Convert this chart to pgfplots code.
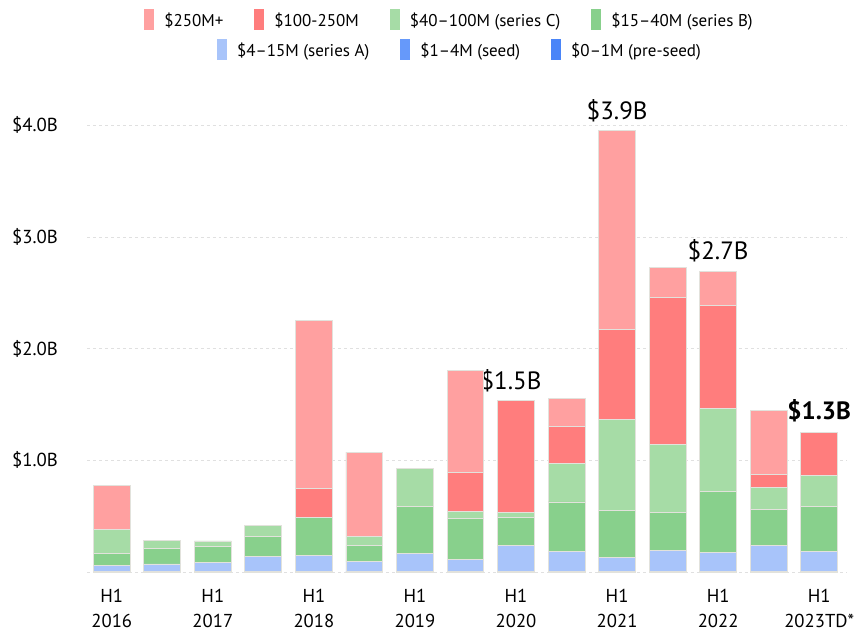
\documentclass[border=0pt]{standalone}
\usepackage{pgfplots}
\pgfplotsset{compat=1.18}
\usepackage{pgfplotstable}
\usepackage{fontspec}
\setmainfont{PT Sans}
\definecolor{cE}{HTML}{FFA0A0}
\definecolor{cD}{HTML}{FF7D7D}
\definecolor{cC}{HTML}{A6DCA6}
\definecolor{cB}{HTML}{88D08C}
\definecolor{cA}{HTML}{A8C4FA}
\definecolor{cS}{HTML}{6699FA}
\definecolor{cP}{HTML}{4A85F8}
\definecolor{edge}{HTML}{E2E2DC}
\pgfplotstableread{
x pre seed A B C D E
0 0.002 0.004 0.054 0.110 0.210 0 0.396
1 0.002 0.004 0.066 0.138 0.074 0 0
2 0.002 0.004 0.081 0.143 0.048 0 0
3 0.002 0.004 0.134 0.180 0.098 0 0
4 0.002 0.004 0.144 0.337 0 0.260 1.506
5 0.002 0.004 0.084 0.146 0.084 0 0.754
6 0.002 0.004 0.164 0.420 0.340 0 0
7 0.002 0.004 0.110 0.367 0.060 0.347 0.916
8 0.002 0.004 0.233 0.248 0.045 1.005 0
9 0.002 0.004 0.182 0.439 0.346 0.334 0.251
10 0.002 0.004 0.123 0.423 0.812 0.809 1.781
11 0.002 0.004 0.188 0.343 0.603 1.322 0.268
12 0.002 0.004 0.167 0.549 0.746 0.920 0.304
13 0.002 0.004 0.233 0.319 0.197 0.120 0.573
14 0.002 0.004 0.182 0.403 0.275 0.387 0
}\data
\begin{document}
\fontsize{17bp}{25bp}\selectfont
\begin{tikzpicture}[x=1bp,y=1bp]
\path[use as bounding box] (-87,-59) rectangle (772,572);
\begin{axis}[
  scale only axis,
  width=760bp, height=469bp,
  xmin=-0.49, xmax=14.55,
  ymin=0, ymax=4.2,
  ybar stacked, bar width=0.73,
  clip=false,
  axis line style={draw=none},
  tick style={draw=none},
  ytick={0,1,2,3,4},
  yticklabels={,\$1.0B,\$2.0B,\$3.0B,\$4.0B},
  ymajorgrids,
  grid style={dashed, black!12, line width=0.8bp},
  xtick={0,2,4,6,8,10,12,14},
  xticklabels={H1\\2016,H1\\2017,H1\\2018,H1\\2019,H1\\2020,H1\\2021,H1\\2022,H1\\2023TD*},
  xticklabel style={align=center, inner sep=0pt, yshift=-17bp, font=\fontsize{18.7bp}{25bp}\selectfont},
  yticklabel style={inner sep=0pt, xshift=-29bp, font=\fontsize{18.8bp}{22bp}\selectfont},
  every axis plot/.append style={draw=edge, line width=0.9bp},
]
\addplot[fill=cP] table[x=x,y=pre]{\data};
\addplot[fill=cS] table[x=x,y=seed]{\data};
\addplot[fill=cA] table[x=x,y=A]{\data};
\addplot[fill=cB] table[x=x,y=B]{\data};
\addplot[fill=cC] table[x=x,y=C]{\data};
\addplot[fill=cD] table[x=x,y=D]{\data};
\addplot[fill=cE] table[x=x,y=E]{\data};
\node[anchor=south, inner sep=0pt, font=\fontsize{25bp}{28bp}\selectfont] at (axis cs:10,4.03) {\$3.9B};
\node[anchor=south, inner sep=0pt, font=\fontsize{25bp}{28bp}\selectfont] at (axis cs:12,2.77) {\$2.7B};
\node[anchor=south, inner sep=0pt, font=\fontsize{25bp}{28bp}\selectfont] at (axis cs:7.9,1.61) {\$1.5B};
\node[anchor=south, inner sep=0pt, font=\bfseries\fontsize{25bp}{28bp}\selectfont] at (axis cs:14,1.34) {\$1.3B};
\end{axis}
\node[inner sep=0pt] at (361.5,552) {%
\textcolor{cE}{\rule[-4bp]{10bp}{21bp}}\hspace{10bp}\$250M+\hspace{31bp}%
\textcolor{cD}{\rule[-4bp]{10bp}{21bp}}\hspace{10bp}\$100-250M\hspace{31bp}%
\textcolor{cC}{\rule[-4bp]{10bp}{21bp}}\hspace{10bp}\$40–100M (series C)\hspace{31bp}%
\textcolor{cB}{\rule[-4bp]{10bp}{21bp}}\hspace{10bp}\$15–40M (series B)};
\node[inner sep=0pt] at (372,522) {%
\textcolor{cA}{\rule[-4bp]{10bp}{21bp}}\hspace{10bp}\$4–15M (series A)\hspace{31bp}%
\textcolor{cS}{\rule[-4bp]{10bp}{21bp}}\hspace{10bp}\$1–4M (seed)\hspace{31bp}%
\textcolor{cP}{\rule[-4bp]{10bp}{21bp}}\hspace{10bp}\$0–1M (pre-seed)};
\end{tikzpicture}
\end{document}
